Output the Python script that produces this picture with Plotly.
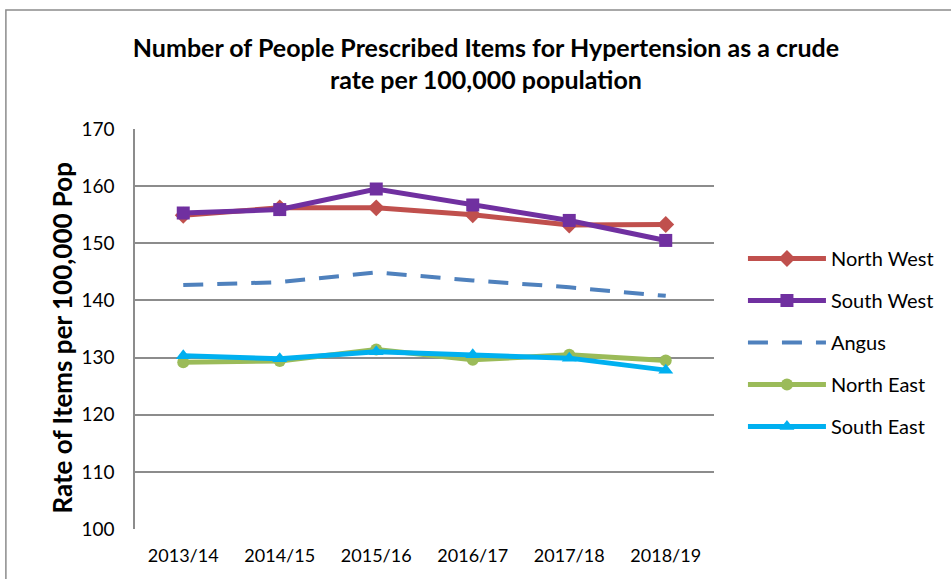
import plotly.graph_objects as go

years = ["2013/14", "2014/15", "2015/16", "2016/17", "2017/18", "2018/19"]
north_west = [154.9, 156.2, 156.2, 155.0, 153.2, 153.3]
south_west = [155.3, 155.9, 159.5, 156.7, 154.0, 150.5]
angus = [142.7, 143.2, 144.9, 143.5, 142.3, 140.8]
north_east = [129.2, 129.4, 131.4, 129.6, 130.5, 129.5]
south_east = [130.3, 129.8, 131.0, 130.5, 129.9, 127.8]

FONT = "Lato, 'Open Sans', sans-serif"

series = [
    ("North West", north_west, "#C0504D", "diamond", 13, "solid"),
    ("South West", south_west, "#7030A0", "square", 13, "solid"),
    ("Angus", angus, "#4F81BD", None, 0, "dash"),
    ("North East", north_east, "#9BBB59", "circle", 12, "solid"),
    ("South East", south_east, "#00B0F0", "triangle-up", 13, "solid"),
]

fig = go.Figure()
for i, (name, vals, color, sym, sz, dash) in enumerate(series):
    if sym is None:
        fig.add_trace(go.Scatter(
            x=years, y=vals, name=name, mode="lines",
            line=dict(color=color, width=4, dash="20px,14px"),
            legendgroup=str(i),
        ))
    else:
        fig.add_trace(go.Scatter(
            x=years, y=vals, name=name, mode="lines+markers",
            line=dict(color=color, width=5, dash=dash),
            marker=dict(symbol=sym, size=sz, color=color),
            legendgroup=str(i),
        ))

fig.update_layout(
    width=951, height=579,
    margin=dict(l=135, r=233, t=129, b=50),
    paper_bgcolor="white", plot_bgcolor="white",
    font=dict(family=FONT, size=18, color="black"),
    title=dict(
        text="<b>Number of People Prescribed Items for Hypertension as a crude<br>rate per 100,000 population</b>",
        x=0.511, xanchor="center", y=0.9016, yanchor="middle",
        font=dict(family=FONT, size=25, color="black"),
    ),
    showlegend=True,
    legend=dict(
        x=1.050, y=0.725, xanchor="left", yanchor="top",
        font=dict(family=FONT, size=20, color="black"),
        tracegroupgap=13, itemwidth=78,
        bgcolor="rgba(0,0,0,0)",
    ),
    shapes=[dict(
        type="rect", xref="paper", yref="paper",
        x0=(5 - 135) / 583, x1=(960 - 135) / 583,
        y0=(529 - 590) / 400, y1=1 + (129 - 10) / 400,
        line=dict(color="#8C8C8C", width=1.5), fillcolor="rgba(0,0,0,0)",
        layer="below",
    )],
    annotations=[dict(
        text="<b>Rate of Items per 100,000 Pop</b>",
        xref="paper", yref="paper", x=(61 - 135) / 583, y=(529 - 338) / 400,
        xanchor="center", yanchor="middle", textangle=-90, showarrow=False,
        font=dict(family=FONT, size=26, color="black"),
    )],
)

fig.update_xaxes(
    type="category", range=[-0.5, 5.5],
    showgrid=False, showline=False, zeroline=False,
    ticks="", ticklabelstandoff=14,
    tickfont=dict(family=FONT, size=18, color="black"),
)
fig.update_yaxes(
    range=[100, 170], dtick=10,
    showgrid=True, gridcolor="#8C8C8C", gridwidth=1.5,
    showline=True, linecolor="#8C8C8C", linewidth=1.5,
    zeroline=False, ticks="", ticklabelstandoff=15,
    tickfont=dict(family=FONT, size=19, color="black"),
)

fig.write_html("out.html", config={"displayModeBar": False},
               post_script="document.body.style.margin='0';")
